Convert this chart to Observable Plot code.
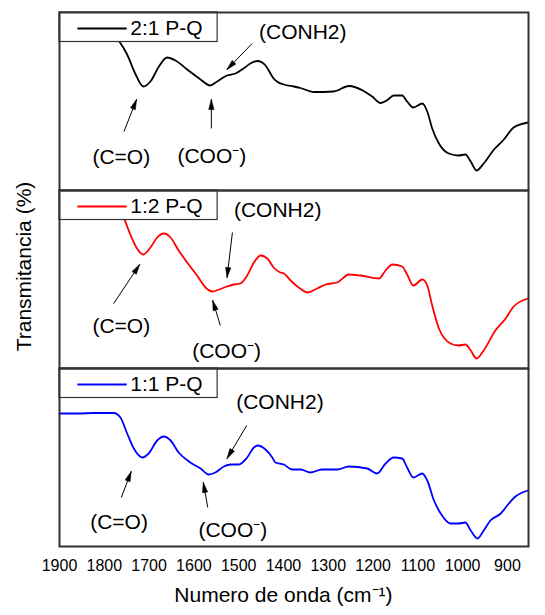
<!DOCTYPE html>
<html>
<head>
<meta charset="utf-8">
<script src="https://cdn.jsdelivr.net/npm/d3@7"></script>
<script src="https://cdn.jsdelivr.net/npm/@observablehq/plot@0.6"></script>
<style>
  body { margin: 0; background: #fff; }
</style>
</head>
<body>
<div id="chart"></div>
<script>
// FTIR spectra of the P-Q complexes, one stacked panel per ratio
const samples = ["2:1 P-Q", "1:2 P-Q", "1:1 P-Q"];
const colors = ["#000000", "#ff0000", "#0000ff"];

// wavenumber (cm-1) and transmittance (arbitrary units) per sample
const wn21 = [1900, 1830, 1785, 1765, 1749, 1730, 1713, 1697, 1678, 1660, 1641, 1615, 1585, 1564, 1548, 1526, 1507, 1489, 1474, 1458, 1440, 1429, 1422, 1413, 1399, 1377, 1362, 1332, 1288, 1254, 1221, 1202, 1183, 1168, 1154, 1135, 1124, 1110, 1090, 1079, 1068, 1053, 1031, 1009, 994, 982, 969, 953, 930, 908, 886, 854];
const t21 = [164, 161, 157, 148, 136, 116, 104, 109, 124, 133, 130, 121, 111, 105, 109, 115, 117, 122, 127, 129.5, 125, 117, 112, 108.5, 106, 104, 102.5, 98.5, 99, 104.5, 99.5, 94, 87.5, 90.5, 95, 95, 89, 83, 87, 79, 62, 47, 37, 35, 36, 29, 20, 27, 41, 51, 63, 68];

const wn12 = [1900, 1820, 1775, 1756, 1741, 1727, 1713, 1697, 1682, 1667, 1652, 1634, 1615, 1593, 1574, 1559, 1544, 1526, 1511, 1496, 1481, 1466, 1451, 1436, 1422, 1407, 1399, 1384, 1366, 1346, 1325, 1306, 1280, 1254, 1228, 1187, 1172, 1157, 1135, 1124, 1110, 1090, 1079, 1068, 1053, 1027, 1009, 994, 982, 969, 953, 927, 904, 886, 854];
const t12 = [173, 171, 163, 150, 133, 120, 114, 121, 131, 135, 131, 118, 106, 93, 81, 77, 79, 82, 84, 85, 93, 106, 113, 110, 101, 96, 95, 88, 81, 76, 80, 84, 86, 94, 93, 90, 98, 104, 102, 94, 83, 89, 83, 63, 40, 25, 23, 24, 18, 10, 18, 38, 50, 62, 70];

const wn11 = [1900, 1860, 1823, 1779, 1764, 1749, 1734, 1715, 1701, 1682, 1667, 1652, 1634, 1608, 1585, 1567, 1552, 1533, 1518, 1500, 1481, 1466, 1458, 1440, 1425, 1418, 1399, 1381, 1362, 1340, 1314, 1280, 1254, 1213, 1191, 1172, 1154, 1135, 1124, 1110, 1090, 1079, 1064, 1049, 1027, 1009, 994, 982, 967, 953, 938, 915, 897, 882, 854];
const t11 = [133, 133, 133.5, 133.5, 129, 113, 98, 89, 93, 106, 110, 106, 94, 84, 78, 72, 74, 80, 82, 82, 89, 99, 101, 97, 89, 84, 82, 77, 77, 74, 77, 77, 80, 78, 73, 83, 89, 88, 79, 69, 73, 66, 46, 33, 23, 23, 24, 16, 8, 16, 26, 33, 43, 50, 56];

const xTicks = [1900, 1800, 1700, 1600, 1500, 1400, 1300, 1200, 1100, 1000, 900];

// band assignments: label position and arrow from (x1, y1) to the band at (x2, y2)
const annSample = ["2:1 P-Q", "2:1 P-Q", "2:1 P-Q", "1:2 P-Q", "1:2 P-Q", "1:2 P-Q", "1:1 P-Q", "1:1 P-Q", "1:1 P-Q"];
const annText = ["(C=O)", "(COO\u207B)", "(CONH2)", "(C=O)", "(COO\u207B)", "(CONH2)", "(C=O)", "(COO\u207B)", "(CONH2)"];
const annX = [1762, 1560, 1357, 1762, 1527, 1413, 1767, 1513, 1408];
const annY = [33, 34, 158, 42, 17, 158, 24, 16, 144];
const arrowX1 = [1756, 1561, 1470, 1779, 1541, 1514, 1762, 1569, 1482];
const arrowY1 = [59, 62, 147, 65, 43, 136, 49, 39, 121];
const arrowX2 = [1728, 1561, 1526, 1721, 1558, 1526, 1740, 1579, 1526];
const arrowY2 = [91, 91, 121, 104, 68, 91, 75, 64, 88];

// ---- layout ----
const W = 545, H = 615;
const mt = 12, mb = 69, ml = 59, mr = 17;
const xDomain = [1900, 853];
const yDomain = [0, 178];
const font = '"Liberation Sans", Arial, Helvetica, sans-serif';

// ---- tables ----
const series = [{wn: wn21, t: t21}, {wn: wn12, t: t12}, {wn: wn11, t: t11}];
const curveRows = samples.flatMap((s, i) =>
  series[i].wn.map((w, j) => ({sample: s, color: colors[i], wn: w, t: series[i].t[j]})));
const legendRows = samples.map((s, i) => ({sample: s, color: colors[i]}));
const annRows = annText.map((txt, i) => ({
  id: i, sample: annSample[i], text: txt, x: annX[i], y: annY[i],
  x1: arrowX1[i], y1: arrowY1[i], x2: arrowX2[i], y2: arrowY2[i]
}));

// filled arrowheads, built in screen space then mapped back to data units
const xs = Plot.scale({x: {domain: xDomain, range: [ml, W - mr]}});
const pxPerY = ((H - mt - mb) / samples.length) / (yDomain[1] - yDomain[0]);
const headLen = 10, headHalf = 2.6;
const headRows = annRows.flatMap(a => {
  const px1 = xs.apply(a.x1), py1 = -a.y1 * pxPerY;
  const px2 = xs.apply(a.x2), py2 = -a.y2 * pxPerY;
  const dx = px2 - px1, dy = py2 - py1, len = Math.hypot(dx, dy);
  const ux = dx / len, uy = dy / len;
  const bx = px2 - ux * headLen, by = py2 - uy * headLen;
  const pts = [[px2, py2], [bx - uy * headHalf, by + ux * headHalf], [bx + uy * headHalf, by - ux * headHalf], [px2, py2]];
  return pts.map(([px, py]) => ({id: a.id, sample: a.sample, x: xs.invert(px), y: -py / pxPerY}));
});

// axis titles: the x title sits below the bottom panel, the y title left of the middle panel
const xTitle = [{sample: samples[2], x: 1400, text: "Numero de onda (cm\u207B\u00B9)"}];
const yTitle = [{sample: samples[1], x: xs.invert(ml - 35), y: 102, text: "Transmitancia (%)"}];

const chart = Plot.plot({
  width: W,
  height: H,
  marginTop: mt,
  marginBottom: mb,
  marginLeft: ml,
  marginRight: mr,
  style: {fontFamily: font, fontSize: "16px", background: "#fff", color: "#000"},
  x: {domain: xDomain, range: [ml, W - mr], ticks: xTicks, tickSize: 0, tickPadding: 13, tickFormat: d => String(d), label: null},
  y: {domain: yDomain, axis: null},
  fy: {domain: samples, axis: null, padding: 0, label: null},
  color: {type: "identity"},
  marks: [
    Plot.line(curveRows, {x: "wn", y: "t", z: "sample", fy: "sample", stroke: "color", strokeWidth: 1.8, curve: "monotone-x"}),
    // legend box in the upper-left corner of each panel
    Plot.rect(legendRows, {x1: 1900, x2: 1547, y1: 148.5, y2: 178, fy: "sample", fill: "#fff", stroke: "#333", strokeWidth: 1.2}),
    Plot.link(legendRows, {x1: 1860, x2: 1750, y1: 162, y2: 162, fy: "sample", stroke: "color", strokeWidth: 1.8}),
    Plot.text(legendRows, {x: 1742, y: 162, text: "sample", fy: "sample", textAnchor: "start", fontSize: 21, fill: "#000"}),
    // band labels and arrows
    Plot.link(annRows, {x1: "x1", y1: "y1", x2: "x2", y2: "y2", fy: "sample", stroke: "#000", strokeWidth: 1}),
    Plot.line(headRows, {x: "x", y: "y", z: "id", fy: "sample", fill: "#000", stroke: "#000", strokeWidth: 0.6}),
    Plot.text(annRows, {x: "x", y: "y", text: "text", fy: "sample", fontSize: 21, fill: "#000"}),
    Plot.frame({stroke: "#333", strokeWidth: 2}),
    // axis titles
    Plot.text(xTitle, {x: "x", fy: "sample", frameAnchor: "bottom", dy: 55, text: "text", fontSize: 21, fill: "#000"}),
    Plot.text(yTitle, {x: "x", y: "y", fy: "sample", rotate: -90, text: "text", fontSize: 21, fill: "#000"})
  ]
});

document.getElementById("chart").appendChild(chart);
</script>
</body>
</html>
